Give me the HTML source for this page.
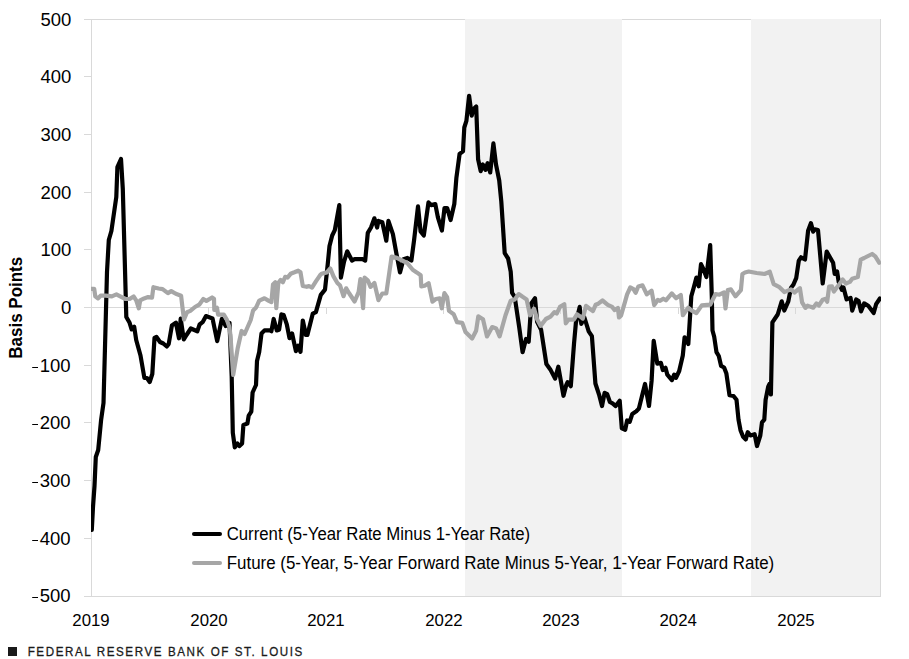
<!DOCTYPE html>
<html><head><meta charset="utf-8"><style>
html,body{margin:0;padding:0;background:#fff;width:909px;height:659px;overflow:hidden}
svg{display:block}
</style></head><body>
<svg width="909" height="659" viewBox="0 0 909 659">
<line x1="84" y1="19.5" x2="880" y2="19.5" stroke="#d9d9d9" stroke-width="1"/>
<rect x="465" y="19" width="157" height="577" fill="#f2f2f2"/>
<rect x="751" y="19" width="130" height="577" fill="#f2f2f2"/>
<line x1="84" y1="76.5" x2="91" y2="76.5" stroke="#d9d9d9" stroke-width="1"/>
<line x1="84" y1="134.5" x2="91" y2="134.5" stroke="#d9d9d9" stroke-width="1"/>
<line x1="84" y1="192.5" x2="91" y2="192.5" stroke="#d9d9d9" stroke-width="1"/>
<line x1="84" y1="249.5" x2="91" y2="249.5" stroke="#d9d9d9" stroke-width="1"/>
<line x1="84" y1="307.5" x2="880" y2="307.5" stroke="#d9d9d9" stroke-width="1"/>
<line x1="84" y1="365.5" x2="91" y2="365.5" stroke="#d9d9d9" stroke-width="1"/>
<line x1="84" y1="422.5" x2="91" y2="422.5" stroke="#d9d9d9" stroke-width="1"/>
<line x1="84" y1="480.5" x2="91" y2="480.5" stroke="#d9d9d9" stroke-width="1"/>
<line x1="84" y1="538.5" x2="91" y2="538.5" stroke="#d9d9d9" stroke-width="1"/>
<line x1="84" y1="596.5" x2="880" y2="596.5" stroke="#d9d9d9" stroke-width="1"/>
<line x1="208.5" y1="307.5" x2="208.5" y2="314" stroke="#d9d9d9" stroke-width="1"/>
<line x1="326.5" y1="307.5" x2="326.5" y2="314" stroke="#d9d9d9" stroke-width="1"/>
<line x1="443.5" y1="307.5" x2="443.5" y2="314" stroke="#d9d9d9" stroke-width="1"/>
<line x1="560.5" y1="307.5" x2="560.5" y2="314" stroke="#d9d9d9" stroke-width="1"/>
<line x1="678.5" y1="307.5" x2="678.5" y2="314" stroke="#d9d9d9" stroke-width="1"/>
<line x1="795.5" y1="307.5" x2="795.5" y2="314" stroke="#d9d9d9" stroke-width="1"/>
<line x1="91.5" y1="19" x2="91.5" y2="597" stroke="#d9d9d9" stroke-width="1"/>
<line x1="880.5" y1="19" x2="880.5" y2="597" stroke="#d9d9d9" stroke-width="1"/>
<text x="71.3" y="25.90" text-anchor="end" font-family='"Liberation Sans", sans-serif' font-size="18.5" fill="#000">500</text>
<text x="71.3" y="82.90" text-anchor="end" font-family='"Liberation Sans", sans-serif' font-size="18.5" fill="#000">400</text>
<text x="71.3" y="140.90" text-anchor="end" font-family='"Liberation Sans", sans-serif' font-size="18.5" fill="#000">300</text>
<text x="71.3" y="198.90" text-anchor="end" font-family='"Liberation Sans", sans-serif' font-size="18.5" fill="#000">200</text>
<text x="71.3" y="255.90" text-anchor="end" font-family='"Liberation Sans", sans-serif' font-size="18.5" fill="#000">100</text>
<text x="71.3" y="313.90" text-anchor="end" font-family='"Liberation Sans", sans-serif' font-size="18.5" fill="#000">0</text>
<text x="70.6" y="371.90" text-anchor="end" font-family='"Liberation Sans", sans-serif' font-size="18.5" fill="#000">100</text>
<rect x="32.2" y="367" width="5.8" height="1" fill="#000"/>
<text x="70.6" y="428.90" text-anchor="end" font-family='"Liberation Sans", sans-serif' font-size="18.5" fill="#000">200</text>
<rect x="32.2" y="424" width="5.8" height="1" fill="#000"/>
<text x="70.6" y="486.90" text-anchor="end" font-family='"Liberation Sans", sans-serif' font-size="18.5" fill="#000">300</text>
<rect x="32.2" y="482" width="5.8" height="1" fill="#000"/>
<text x="70.6" y="544.90" text-anchor="end" font-family='"Liberation Sans", sans-serif' font-size="18.5" fill="#000">400</text>
<rect x="32.2" y="540" width="5.8" height="1" fill="#000"/>
<text x="70.6" y="601.90" text-anchor="end" font-family='"Liberation Sans", sans-serif' font-size="18.5" fill="#000">500</text>
<rect x="32.2" y="597" width="5.8" height="1" fill="#000"/>
<text transform="translate(91,626) scale(0.965,1)" x="0" y="0" text-anchor="middle" font-family='"Liberation Sans", sans-serif' font-size="17.4" fill="#000">2019</text>
<text transform="translate(209,626) scale(0.965,1)" x="0" y="0" text-anchor="middle" font-family='"Liberation Sans", sans-serif' font-size="17.4" fill="#000">2020</text>
<text transform="translate(325.9,626) scale(0.965,1)" x="0" y="0" text-anchor="middle" font-family='"Liberation Sans", sans-serif' font-size="17.4" fill="#000">2021</text>
<text transform="translate(443.9,626) scale(0.965,1)" x="0" y="0" text-anchor="middle" font-family='"Liberation Sans", sans-serif' font-size="17.4" fill="#000">2022</text>
<text transform="translate(560.9,626) scale(0.965,1)" x="0" y="0" text-anchor="middle" font-family='"Liberation Sans", sans-serif' font-size="17.4" fill="#000">2023</text>
<text transform="translate(678.2,626) scale(0.965,1)" x="0" y="0" text-anchor="middle" font-family='"Liberation Sans", sans-serif' font-size="17.4" fill="#000">2024</text>
<text transform="translate(796,626) scale(0.965,1)" x="0" y="0" text-anchor="middle" font-family='"Liberation Sans", sans-serif' font-size="17.4" fill="#000">2025</text>
<text transform="translate(21.9,307.75) rotate(-90) scale(0.918,1)" text-anchor="middle" font-family='"Liberation Sans", sans-serif' font-weight="bold" font-size="18.5" fill="#000">Basis Points</text>
<defs><clipPath id="pa"><rect x="91" y="0" width="790" height="659"/></clipPath></defs>
<g clip-path="url(#pa)">
<path d="M91.8,530 L93,507 L94.5,486 L95.8,457 L98.2,450 L101.1,420 L103.5,403 L107,272 L108.8,240 L111.4,231 L116.3,197 L117.4,167 L121,159 L122.8,189 L126.3,317 L129.6,322.8 L131.6,329.4 L134.2,326.8 L136.2,340 L140.5,355.5 L144.4,378 L147,378 L149.7,382 L152.3,374 L154.5,338 L156.5,337 L160,342 L163.3,343.5 L166.8,346.5 L168.7,344 L171.9,325.5 L175.9,322.6 L179,338.3 L180.7,318.7 L183.8,339.5 L186.5,335 L190.8,328.5 L197.3,331.3 L199.6,324.5 L202.6,322.2 L206,316.1 L212.5,318.4 L217.2,341.1 L221.9,318.8 L225.7,326 L229.5,322.9 L231.7,376.7 L232.8,432.8 L234.8,447.4 L237.5,443.4 L239.4,446 L242.1,443.4 L243.4,424.9 L247.4,423.6 L248.7,415.7 L251.3,411.7 L252.6,392.5 L256,385 L257,361 L259.2,351.9 L261.5,333.5 L264.5,330.4 L269.9,330.4 L271.4,331.2 L273.7,319 L276.8,330.4 L279.1,329.7 L281.4,314.4 L283.7,315.1 L286.8,324.3 L289.5,338.1 L292.1,333.5 L295.9,351.1 L298.2,345.8 L300.5,351.9 L302.8,320.5 L305.9,335 L307.4,335 L312.8,313.6 L315.9,312.1 L320.8,294.9 L325,289.6 L327.7,264.5 L329.5,246 L332.2,235.5 L334.8,230.2 L339.3,205.1 L340.9,277.7 L344,261.9 L347.2,251.3 L352,260.5 L354.6,259.2 L362.5,259.2 L365.2,260.5 L367.8,232.8 L371,227.5 L374.4,218.3 L377.1,227.5 L378.4,220.9 L382.3,222.2 L386.3,240.7 L388.4,220.9 L392.9,234.1 L395.5,248.7 L400,272.4 L403.5,259.2 L407.4,257.9 L411.4,260.5 L414,240.7 L418,206.4 L420.6,231.5 L423.8,235.5 L428.5,202.4 L431.2,205.1 L435.3,204.1 L437.9,217.3 L441.9,230.5 L444.5,208.1 L447.2,208.1 L450.6,220 L454.3,204.1 L456.4,177.7 L459.6,153.9 L463,151.3 L464.3,127.5 L466.4,120.9 L469.1,95.8 L471.7,115.6 L473.6,109 L476.2,106.4 L478.1,159.2 L480.7,171.1 L482.8,164.5 L485.5,169.8 L487.6,163.2 L490.2,172.4 L493.4,143.4 L496,164.5 L499.2,180.3 L501.3,201.5 L504.7,253.2 L508.1,258.5 L510.7,271.7 L512.1,292.8 L514.7,296.8 L519.2,327.1 L522.6,352.2 L526,339 L528.7,341.7 L531.3,303.4 L535,298.1 L537.1,321.9 L541.1,329.8 L546.4,364.1 L550.3,369.4 L555.1,378.6 L558.3,366.7 L563.5,395.8 L566.2,385.2 L567.6,382.2 L570.8,386.2 L574,343.9 L575.9,322.8 L579.7,306.9 L581.3,323.9 L584.4,317.5 L588.7,331.3 L591.9,336.1 L595.4,383.5 L599.3,395.4 L602,406 L604.6,392.8 L607.2,394.1 L609.9,402 L612.5,403.4 L615.7,406 L619.7,400.7 L621.8,428.4 L625.2,429.8 L627.1,420.5 L629.7,421.8 L632.3,413.9 L636.3,411.3 L638.9,408.6 L645,384 L649,406 L651.6,380.9 L653.7,340.9 L657.3,363.7 L660.9,362.8 L662.8,370 L665.5,367.8 L667.3,374.6 L671.9,380.1 L674.2,374.6 L676,377.8 L679.2,371 L682.8,355.5 L684.6,337.3 L688.3,344 L691.3,296.3 L693.7,287.8 L696.4,277.6 L698.7,286.3 L701,264.1 L702.9,267.9 L706.4,277.1 L710.2,245 L711.8,296.3 L712.5,330.5 L714.2,336.8 L716.5,352.2 L718.8,356 L721.1,365.9 L724.1,367.5 L726.4,373.6 L729.5,395.2 L733.5,396 L736.5,399.8 L738.5,419.6 L740.5,430.2 L743.1,436.8 L745.8,439.4 L747.7,432.2 L750.4,435.5 L754.6,434.2 L757,446 L760.3,435.5 L762,422.3 L764.3,419.6 L765.6,399.8 L768.2,386.6 L769.5,384 L770.9,394.5 L772.4,322.4 L777.7,314.5 L781.7,301.3 L784.3,310.5 L788.3,301.3 L790.9,288.1 L793.3,284.8 L796.2,278.2 L798.8,260.6 L801,257.3 L805,259.5 L808.1,230.8 L810.9,223.1 L813.2,231.7 L814.8,229.3 L818,230.1 L822.7,283.5 L826.7,251.6 L833.1,262.8 L834.7,274 L837.1,271.6 L838.7,281.9 L841.9,289.9 L843.5,287.5 L846.6,299.4 L850.6,297.9 L852.2,310.6 L856.2,299.4 L858.6,301 L861,311.4 L864.2,303.4 L868.2,305.8 L873.7,313 L876.1,304.2 L879.9,298.5" fill="none" stroke="#000" stroke-width="4.2" stroke-linejoin="round" stroke-linecap="round"/>
<path d="M91.5,288.8 L94.2,288.8 L95.3,296.4 L97.9,298.4 L100.6,295.7 L105.8,295.7 L111.8,296.4 L116.4,294.4 L121.7,297.1 L125.6,299 L129.6,299 L133.6,296.4 L136.2,300.4 L138.8,308.3 L140.2,300.4 L144.1,298.4 L148.1,297.1 L152,297.7 L153.4,287.2 L158.6,288.5 L162.6,289.1 L167.9,293.1 L171.2,291.1 L175.8,293.8 L181.1,295.7 L182.4,307 L184,319.5 L187,312.2 L190.3,310.9 L195,307 L199.2,304.7 L203.3,299 L206.4,300.9 L212.1,297.5 L214,298.7 L214.3,310 L217,307.8 L218.1,314.6 L223.8,314.6 L226.9,319.9 L229.5,327.5 L230.4,335 L233.2,375 L237.8,347.7 L241.6,331 L244.6,334 L250.7,320 L253.1,310.5 L256.1,307.5 L259.2,300.6 L264.5,298.3 L268.4,300.6 L271.4,302.1 L273,284.5 L275.3,282.2 L276.3,308.2 L278.3,283 L280.6,279.9 L282.9,282.2 L285.2,276.8 L287.5,277.6 L290.6,273.8 L294.4,272.3 L298.2,270.7 L300.5,272.3 L302.8,286 L306.7,286.8 L309,286 L312,287.6 L315.9,281.4 L320,275.3 L321.6,273.7 L326.9,272.4 L330.3,268.5 L333.5,276.4 L337.4,283 L340.1,285.6 L343.5,296.2 L346.2,288.3 L349.3,293.5 L354.6,301.5 L358.6,292.2 L360.4,279 L363.1,308.1 L364.6,277.7 L367.8,280.3 L370.5,286.9 L374.4,283 L378.4,300.1 L382.3,293.5 L386.3,293.5 L391.6,256.6 L396.9,257.9 L402.1,260.5 L407.4,263.2 L412.7,269.8 L416.7,272.4 L420.7,275.3 L421.3,286.5 L424.6,285.8 L428.6,283.2 L432.5,301.7 L435.8,299 L439.8,298.4 L441.8,308.3 L444.4,293.1 L447.1,297.1 L449,310.9 L453.7,314.2 L457,322.1 L462.2,322.8 L465.5,332 L472.1,338.6 L476.1,330.7 L478.3,316.4 L483,319.2 L487,336.4 L492.2,327.1 L496.2,328.5 L499.6,336.4 L505.5,315.3 L510.7,300.7 L514.7,299.4 L518.7,294.1 L522.6,296.8 L526.6,299.4 L530,315.3 L534,308.7 L537.1,319.2 L540.6,325.9 L545.9,319 L550.5,316.7 L554.4,312.1 L556.7,313.6 L560,306.9 L564.3,304.2 L565.8,323.4 L568.5,319.6 L573.8,319.6 L577,314.3 L580.2,316.4 L582.8,318.6 L586,305.8 L588.7,308 L592.9,311.1 L595.6,304.8 L598.3,303.7 L602.5,300.5 L607.8,304.8 L612.1,306.9 L614.7,310.1 L617.9,308 L619,317.5 L621.1,315.4 L625,301.9 L627.1,294.4 L630.3,287.5 L633.5,289.1 L635.6,292.8 L638.3,286.5 L642.5,285.4 L646.8,294.4 L651.6,290.7 L654.2,305.1 L657.9,299.8 L660.1,300.8 L663.3,298.7 L665.9,300.3 L671.8,293.4 L676,298.2 L680.8,295 L682.9,315.2 L685.6,311.4 L688.2,307.7 L691.4,310.4 L696.4,313.1 L696.4,313.1 L701.8,305.4 L710.2,304.7 L715.6,294 L719.4,294.7 L724,292.4 L725.5,308.5 L727.8,290.1 L730.9,289.4 L735.5,296.3 L740.9,290.1 L742.4,274 L745,272.5 L748.7,271.5 L756.6,273 L764.5,274 L769.8,271.8 L773.7,284.1 L779,286.8 L784.3,292.1 L790.9,289.4 L794.4,292.5 L799.9,288.1 L802.1,302.4 L805.4,307.9 L807.6,305.7 L810,306.6 L813.2,307.7 L816.4,303.4 L818.8,305.5 L822.7,299.8 L825.9,298.7 L827.2,301.8 L829.1,286.7 L832,286.4 L833.9,291.5 L838.7,285.1 L842.7,279.5 L845.9,283.5 L849.8,281.9 L852.2,278.7 L857.8,277.1 L860.7,259.6 L864.2,258 L872.1,254 L875.3,256.4 L879.3,262.8" fill="none" stroke="#a6a6a6" stroke-width="4.2" stroke-linejoin="round" stroke-linecap="round"/>
</g>
<line x1="194" y1="534" x2="220" y2="534" stroke="#000" stroke-width="4" stroke-linecap="round"/>
<line x1="194" y1="563" x2="220" y2="563" stroke="#a6a6a6" stroke-width="4" stroke-linecap="round"/>
<text x="226.7" y="540" font-family='"Liberation Sans", sans-serif' font-size="17.5" textLength="303.5" lengthAdjust="spacingAndGlyphs" fill="#000">Current (5-Year Rate Minus 1-Year Rate)</text>
<text x="226.7" y="569" font-family='"Liberation Sans", sans-serif' font-size="17.5" textLength="547.5" lengthAdjust="spacingAndGlyphs" fill="#000">Future (5-Year, 5-Year Forward Rate Minus 5-Year, 1-Year Forward Rate)</text>
<rect x="8" y="647" width="9" height="9" fill="#1a1a1a"/>
<text transform="translate(27.7,655.6) scale(0.88,1)" x="0" y="0" font-family='"Liberation Sans", sans-serif' font-size="13.2" textLength="312.05" lengthAdjust="spacing" fill="#1a1a1a" stroke="#1a1a1a" stroke-width="0.3">FEDERAL RESERVE BANK OF ST. LOUIS</text>
</svg>
</body></html>
